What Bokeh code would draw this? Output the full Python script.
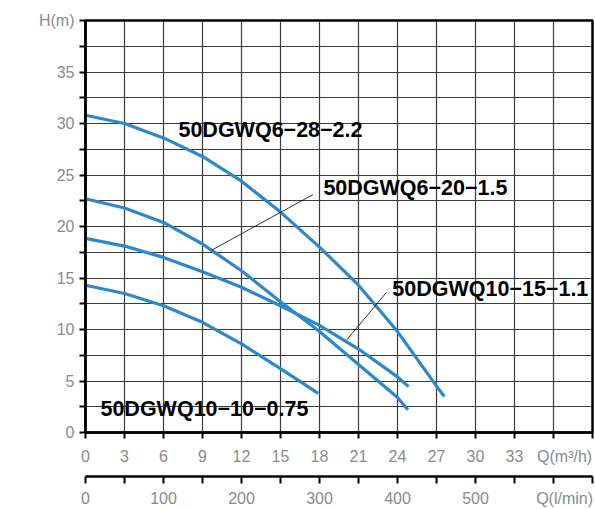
from bokeh.plotting import figure
from bokeh.models import Range1d, LinearAxis, FixedTicker
from bokeh.core.properties import value
from bokeh.embed import file_html
from bokeh.resources import INLINE

# ---- data (Q in m3/h, H in m) ----
q_a = [0, 3, 6, 9, 12, 15, 18, 21, 24, 27, 27.6]
h_a = [30.8, 30.0, 28.6, 26.8, 24.4, 21.4, 18.0, 14.3, 9.8, 4.5, 3.5]          # 50DGWQ6-28-2.2
q_b = [0, 3, 6, 9, 12, 15, 18, 21, 24, 24.8]
h_b = [22.7, 21.8, 20.4, 18.3, 15.7, 12.7, 9.8, 6.6, 3.4, 2.2]                 # 50DGWQ6-20-1.5
q_c = [0, 3, 6, 9, 12, 15, 18, 21, 24, 24.85]
h_c = [18.85, 18.1, 17.0, 15.6, 14.1, 12.3, 10.4, 8.1, 5.4, 4.45]              # 50DGWQ10-15-1.1
q_d = [0, 3, 6, 9, 12, 15, 17.9]
h_d = [14.3, 13.5, 12.3, 10.7, 8.6, 6.2, 3.8]                                  # 50DGWQ10-10-0.75

names = ["50DGWQ6\u221228\u22122.2", "50DGWQ6\u221220\u22121.5",
         "50DGWQ10\u221215\u22121.1", "50DGWQ10\u221210\u22120.75"]
name_x = [7.15, 18.3, 23.6, 1.15]
name_y = [29.4, 23.7, 13.9, 2.3]
lead_x0 = [9.7, 20.1]
lead_y0 = [17.7, 9.0]
lead_x1 = [17.5, 23.15]
lead_y1 = [23.1, 13.6]

NB = "\u00a0" * 5
q_ticks = list(range(0, 40, 3))
q_labels = {t: str(t) for t in q_ticks}
q_labels[36] = NB + "Q(m\u00b3/h)"
q_labels[39] = ""
h_ticks = [i * 2.5 for i in range(17)]
h_labels = {}
for t in h_ticks:
    if t == 40:
        h_labels[t] = "H(m)"
    elif t % 5 == 0:
        h_labels[t] = str(int(t))
    else:
        h_labels[t] = ""
l_ticks = list(range(0, 651, 50))
l_labels = {t: (str(t) if t % 100 == 0 and t <= 500 else "") for t in l_ticks}
l_labels[600] = NB + "Q(l/min)"

FONT = "Liberation Sans"
GRAY = "#8a8a8a"
BLUE = "#2b88cc"

p = figure(width=595, height=509, x_range=Range1d(0, 39), y_range=Range1d(0, 40),
           output_backend="svg", toolbar_location=None,
           min_border_left=85, min_border_right=3, min_border_top=20, min_border_bottom=77)
p.extra_x_ranges = {"lpm": Range1d(0, 650)}

p.outline_line_color = "black"
p.outline_line_width = 2.5
p.background_fill_color = "white"
p.border_fill_color = "white"

for ax in (p.xaxis[0], p.yaxis[0]):
    ax.axis_line_color = "black"
    ax.axis_line_width = 2.5
    ax.major_tick_line_color = "black"
    ax.major_tick_line_width = 2
    ax.major_tick_in = 0
    ax.major_tick_out = 6
    ax.minor_tick_line_color = None
    ax.major_label_text_color = GRAY
    ax.major_label_text_font = FONT
    ax.major_label_text_font_size = "16px"

p.xaxis[0].ticker = FixedTicker(ticks=q_ticks)
p.xaxis[0].major_label_overrides = q_labels
p.xaxis[0].major_label_standoff = 9
p.xaxis[0].axis_label = " "
p.xaxis[0].axis_label_text_font_size = "5px"
p.xaxis[0].axis_label_standoff = 0

p.yaxis[0].ticker = FixedTicker(ticks=h_ticks)
p.yaxis[0].major_label_overrides = h_labels
p.yaxis[0].major_label_standoff = 5

ax2 = LinearAxis(x_range_name="lpm")
ax2.ticker = FixedTicker(ticks=l_ticks)
ax2.major_label_overrides = l_labels
ax2.axis_line_color = "black"
ax2.axis_line_width = 2.5
ax2.major_tick_line_color = "black"
ax2.major_tick_line_width = 2
ax2.major_tick_in = 0
ax2.major_tick_out = 7
ax2.minor_tick_line_color = None
ax2.major_label_text_color = GRAY
ax2.major_label_text_font = FONT
ax2.major_label_text_font_size = "16px"
ax2.major_label_standoff = 6
p.add_layout(ax2, "below")

p.xgrid.ticker = FixedTicker(ticks=q_ticks)
p.ygrid.ticker = FixedTicker(ticks=h_ticks)
for g in (p.xgrid[0], p.ygrid[0]):
    g.grid_line_color = "#3a3a3a"
    g.grid_line_width = 1.2

for qs, hs in ((q_a, h_a), (q_b, h_b), (q_c, h_c), (q_d, h_d)):
    p.line(qs, hs, line_color=BLUE, line_width=3.2, line_join="round")

p.segment(lead_x0, lead_y0, lead_x1, lead_y1, line_color="black", line_width=0.8)

p.text(name_x, name_y, text=names, text_font=value(FONT), text_font_style="bold",
       text_font_size="21.5px", text_color="black", text_baseline="middle", text_align="left")

open("out.html", "w").write(file_html(p, INLINE))
